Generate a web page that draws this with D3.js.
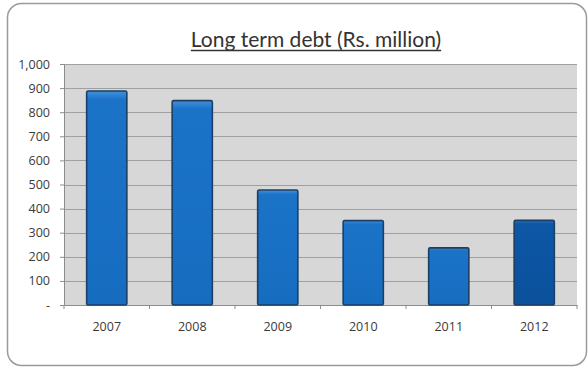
<!DOCTYPE html>
<html>
<head>
<meta charset="utf-8">
<script src="https://cdn.jsdelivr.net/npm/d3@7"></script>
<style>
  html, body { margin: 0; padding: 0; background: #ffffff; }
  svg { display: block; }
</style>
</head>
<body>
<svg id="chart" width="588" height="369"></svg>
<script>
// Long term debt, Rs. million
const years = ["2007", "2008", "2009", "2010", "2011", "2012"];
const debt = [888, 848, 477, 350, 237, 351];
const yTicks = [0, 100, 200, 300, 400, 500, 600, 700, 800, 900, 1000];
const titleText = "Long term debt (Rs. million)";

const svg = d3.select("#chart");
const plot = { left: 64, right: 577, top: 64, bottom: 305 };
const labelFont = "'Open Sans', sans-serif";

const defs = svg.append("defs");
const gradNormal = defs.append("linearGradient").attr("id", "barGrad").attr("x1", 0).attr("y1", 0).attr("x2", 0).attr("y2", 1);
gradNormal.append("stop").attr("offset", "0%").attr("stop-color", "#4590da");
gradNormal.append("stop").attr("offset", "4%").attr("stop-color", "#1b73c8");
gradNormal.append("stop").attr("offset", "100%").attr("stop-color", "#166dc0");
const gradLast = defs.append("linearGradient").attr("id", "barGradLast").attr("x1", 0).attr("y1", 0).attr("x2", 0).attr("y2", 1);
gradLast.append("stop").attr("offset", "0%").attr("stop-color", "#2f72bb");
gradLast.append("stop").attr("offset", "4%").attr("stop-color", "#0d57a6");
gradLast.append("stop").attr("offset", "100%").attr("stop-color", "#0b519c");

// outer frame
svg.append("rect")
  .attr("x", 7.5).attr("y", 3.5).attr("width", 579).attr("height", 362)
  .attr("rx", 14).attr("ry", 14)
  .attr("fill", "#ffffff").attr("stroke", "#9a9a9a").attr("stroke-width", 1.5);

// title
const title = svg.append("text")
  .attr("x", 316).attr("y", 47)
  .attr("text-anchor", "middle")
  .attr("font-family", "Lato, 'Open Sans', sans-serif")
  .attr("font-size", 21)
  .attr("fill", "#333333")
  .text(titleText);
const tb = title.node().getBBox();
svg.append("line")
  .attr("x1", tb.x).attr("x2", tb.x + tb.width)
  .attr("y1", 50.5).attr("y2", 50.5)
  .attr("stroke", "#333333").attr("stroke-width", 1.3);

const x = d3.scaleBand()
  .domain(years)
  .range([plot.left, plot.right])
  .paddingInner(0.53)
  .paddingOuter(0.265);

const y = d3.scaleLinear()
  .domain([0, 1000])
  .range([plot.bottom, plot.top]);

// plot background
svg.append("rect")
  .attr("x", plot.left).attr("y", plot.top)
  .attr("width", plot.right - plot.left).attr("height", plot.bottom - plot.top)
  .attr("fill", "#d7d7d7");

// gridlines
svg.append("g")
  .selectAll("line")
  .data(yTicks.filter(d => d > 0))
  .join("line")
  .attr("x1", plot.left).attr("x2", plot.right)
  .attr("y1", d => Math.round(y(d)) + 0.5).attr("y2", d => Math.round(y(d)) + 0.5)
  .attr("stroke", "#9f9f9f").attr("stroke-width", 1);

// y axis
const yAxis = svg.append("g")
  .attr("transform", `translate(${plot.left},0)`)
  .call(d3.axisLeft(y).tickValues(yTicks).tickSize(4).tickPadding(10)
    .tickFormat(d => d === 0 ? "-" : d3.format(",")(d)));
yAxis.select(".domain").attr("stroke", "#8c8c8c");
yAxis.selectAll(".tick line").attr("stroke", "#8c8c8c");
yAxis.selectAll("text")
  .attr("font-family", labelFont)
  .attr("font-size", 12.5)
  .attr("fill", "#3a3a3a");

// x axis
const xAxis = svg.append("g")
  .attr("transform", `translate(0,${plot.bottom})`)
  .call(d3.axisBottom(x).tickSize(0).tickPadding(17));
xAxis.select(".domain").attr("stroke", "#8c8c8c");
xAxis.selectAll("text")
  .attr("font-family", labelFont)
  .attr("font-size", 12.5)
  .attr("fill", "#3a3a3a");
// category boundary ticks
const step = x.step();
svg.append("g")
  .selectAll("line")
  .data(d3.range(years.length + 1))
  .join("line")
  .attr("x1", i => plot.left + i * step).attr("x2", i => plot.left + i * step)
  .attr("y1", plot.bottom).attr("y2", plot.bottom + 4)
  .attr("stroke", "#8c8c8c");

// bars
svg.append("g")
  .selectAll("rect")
  .data(years.map((yr, i) => ({ yr, v: debt[i], last: i === years.length - 1 })))
  .join("rect")
  .attr("x", d => x(d.yr))
  .attr("y", d => y(d.v))
  .attr("width", x.bandwidth())
  .attr("height", d => y(0) - y(d.v))
  .attr("rx", 1.5)
  .attr("fill", d => d.last ? "url(#barGradLast)" : "url(#barGrad)")
  .attr("stroke", "#1b3f66")
  .attr("stroke-width", 1.6);
</script>
</body>
</html>
